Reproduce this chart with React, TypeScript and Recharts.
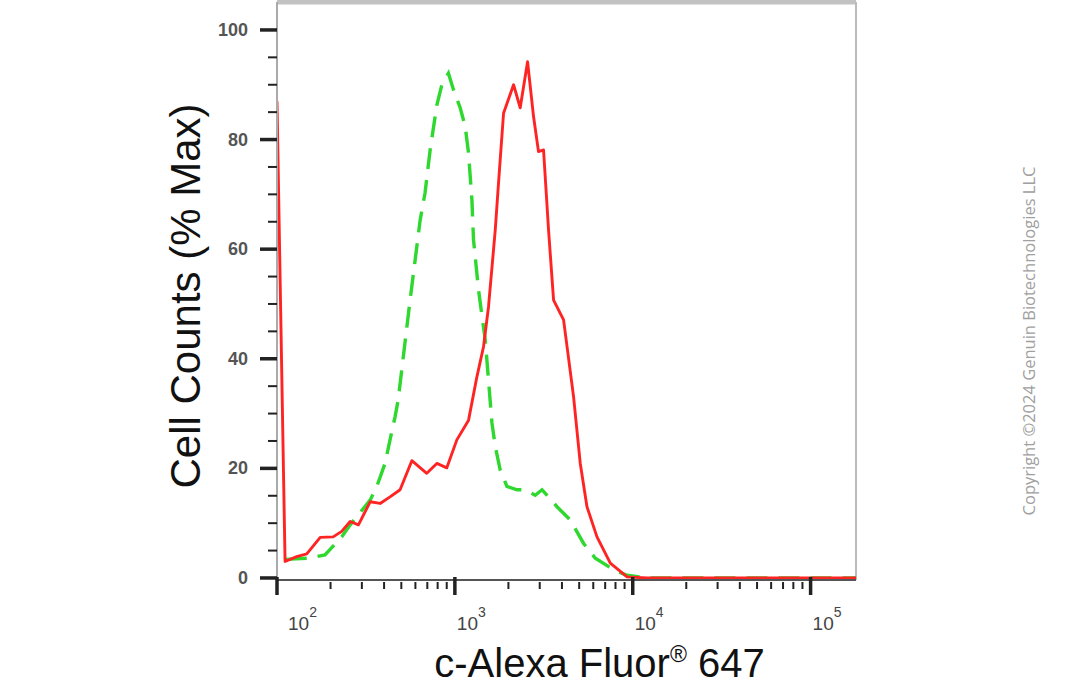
import React from 'react';
import { LineChart, Line, XAxis, YAxis, ReferenceLine } from 'recharts';

// red: stained sample, green (dashed): control
const RED_X = [100, 111, 129, 147, 175, 207, 231, 258, 287, 334, 380, 432, 492, 573, 695, 792, 901, 1026, 1194, 1330, 1449, 1546, 1687, 1760, 1878, 2138, 2330, 2563, 2769, 2953, 3152, 3363, 3589, 4085, 4648, 5070, 5530, 6295, 7480, 9290, 12030, 180000];
const RED_Y = [87, 3.0, 3.9, 4.4, 7.4, 7.5, 8.5, 10.3, 9.7, 13.9, 13.6, 14.8, 16.1, 21.4, 19.1, 20.9, 20.1, 25.2, 28.8, 36.7, 42.2, 49.5, 63.5, 72.1, 84.8, 90.0, 85.8, 94.2, 84.2, 77.8, 78.1, 63.5, 50.7, 47.1, 33.1, 20.9, 13.0, 7.5, 2.7, 0.2, 0, 0];

const GREEN_X = [112, 150, 186, 231, 258, 334, 364, 405, 432, 461, 480, 560, 638, 680, 726, 792, 845, 920, 982, 1071, 1143, 1193, 1247, 1273, 1358, 1482, 1546, 1616, 1687, 1799, 1962, 2234, 2488, 2831, 3090, 3752, 4455, 5293, 6160, 7810, 9290, 12030, 180000];
const GREEN_Y = [3.4, 3.6, 4.2, 7.5, 9.7, 14.2, 16.7, 20.9, 25.2, 29.4, 32.5, 50.7, 65.3, 70.3, 78.1, 86.3, 90.0, 92.1, 89.1, 85.8, 82.4, 77.6, 69.0, 61.7, 52.6, 43.4, 36.1, 28.3, 24.0, 19.7, 16.7, 16.1, 16.1, 15.1, 16.1, 13.0, 10.6, 6.3, 3.6, 1.5, 0.5, 0, 0];

const X_TICKS = [100, 200, 300, 400, 500, 600, 700, 800, 900, 1000, 2000, 3000, 4000, 5000, 6000, 7000, 8000, 9000, 10000, 20000, 30000, 40000, 50000, 60000, 70000, 80000, 90000, 100000];
const Y_TICKS = [0, 5, 10, 15, 20, 25, 30, 35, 40, 45, 50, 55, 60, 65, 70, 75, 80, 85, 90, 95, 100];
const Y_LABELS = [0, 20, 40, 60, 80, 100];

const X_DOMAIN = [100, 180000];
const Y_DOMAIN = [-0.37, 105.1];

const redData = RED_X.map((x, i) => ({ x, y: RED_Y[i] }));
const greenData = GREEN_X.map((x, i) => ({ x, y: GREEN_Y[i] }));

const FONT = '"Liberation Sans", Arial, sans-serif';

function XTick(props: any) {
  const { x, y, payload } = props;
  const v = payload.value;
  const exp = Math.round(Math.log10(v));
  const major = Math.abs(Math.pow(10, exp) - v) < 1e-6;
  if (!major) {
    return <line x1={x} x2={x} y1={y + 2} y2={y + 9} stroke="#222" strokeWidth={2} />;
  }
  const lx = x + (exp === 2 ? 11 : 2);
  return (
    <g>
      <line x1={x} x2={x} y1={y - 3} y2={y + 15} stroke="#222" strokeWidth={3.5} />
      <text x={lx} y={y + 50} fontFamily={FONT} fontSize={19} fill="#444">
        10
        <tspan dy={-13} fontSize={14}>{exp}</tspan>
      </text>
    </g>
  );
}

function YTick(props: any) {
  const { x, y, payload } = props;
  const v = payload.value;
  const major = Y_LABELS.includes(v);
  if (!major) {
    return <line x1={x - 9} x2={x} y1={y} y2={y} stroke="#222" strokeWidth={2} />;
  }
  return (
    <g>
      <line x1={x - 17} x2={x} y1={y} y2={y} stroke="#222" strokeWidth={3.5} />
      <text x={x - 29} y={y} dy={6} textAnchor="end" fontFamily={FONT} fontSize={18} fontWeight="bold" fill="#555">
        {v}
      </text>
    </g>
  );
}

export default function App() {
  return (
    <div style={{ position: 'absolute', left: 0, top: 0, width: 1084, height: 690, background: '#fff' }}>
      <LineChart width={1084} height={690} margin={{ top: 2, right: 228, bottom: 0, left: 0 }}>
        <XAxis
          dataKey="x"
          type="number"
          scale="log"
          domain={X_DOMAIN}
          allowDataOverflow
          ticks={X_TICKS}
          interval={0}
          tick={<XTick />}
          tickLine={false}
          tickSize={0}
          tickMargin={0}
          axisLine={{ stroke: '#555', strokeWidth: 2 }}
          height={110}
          label={({ viewBox }: any) => (
            <text x={viewBox.x + viewBox.width / 2 + 33} y={viewBox.y + 97} textAnchor="middle" fontFamily={FONT} fontSize={40} fill="#111">
              c-Alexa Fluor
              <tspan fontSize={23} dy={-15}>®</tspan>
              <tspan dy={15}> 647</tspan>
            </text>
          )}
        />
        <YAxis
          type="number"
          domain={Y_DOMAIN}
          allowDataOverflow
          ticks={Y_TICKS}
          interval={0}
          tick={<YTick />}
          tickLine={false}
          tickSize={0}
          tickMargin={0}
          axisLine={{ stroke: '#aaa', strokeWidth: 2 }}
          width={277}
          label={({ viewBox }: any) => (
            <text
              transform={`translate(${viewBox.x + 200}, ${viewBox.y + 294}) rotate(-90)`}
              textAnchor="middle"
              fontFamily={FONT}
              fontSize={42}
              fill="#111"
            >
              Cell Counts (% Max)
            </text>
          )}
        />
        <ReferenceLine y={Y_DOMAIN[1]} stroke="#c2c2c2" strokeWidth={5} />
        <ReferenceLine x={X_DOMAIN[1]} stroke="#bbb" strokeWidth={2} />
        <Line
          data={greenData}
          dataKey="y"
          type="linear"
          stroke="#2fd82f"
          strokeWidth={3.4}
          strokeDasharray="21 11"
          dot={false}
          isAnimationActive={false}
        />
        <Line
          data={redData}
          dataKey="y"
          type="linear"
          stroke="#ff2424"
          strokeWidth={2.9}
          strokeLinejoin="round"
          dot={false}
          isAnimationActive={false}
        />
      </LineChart>
      <div
        style={{
          position: 'absolute',
          left: 1028,
          top: 341,
          transform: 'translate(-50%, -50%) rotate(-90deg)',
          whiteSpace: 'nowrap',
          fontFamily: '"Open Sans", "Noto Sans", sans-serif',
          fontSize: 16.5,
          color: '#a0a0a0',
        }}
      >
        Copyright ©2024 Genuin Biotechnologies LLC
      </div>
    </div>
  );
}
